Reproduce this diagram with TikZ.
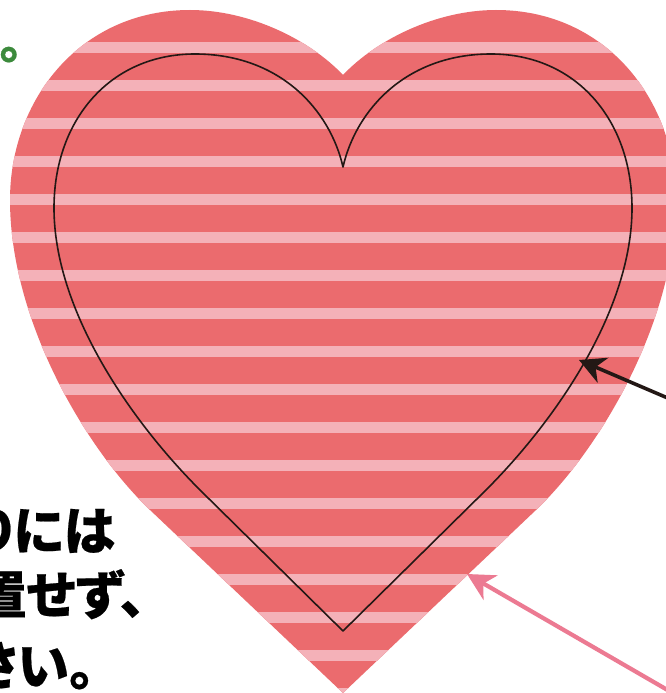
\documentclass[tikz,border=0pt]{standalone}
\usepackage{fontspec}
\newfontfamily\jp{Noto Sans CJK JP}[RawFeature=+palt, BoldFeatures={FakeBold=0.4}]
\usetikzlibrary{arrows.meta}
\definecolor{heartred}{HTML}{EB6B6E}
\definecolor{stripepink}{HTML}{F4B1B8}
\definecolor{linedark}{HTML}{231815}
\definecolor{arrowpink}{HTML}{EC7A92}
\definecolor{dotgreen}{HTML}{3C8A3C}
\begin{document}
\begin{tikzpicture}[x=1pt,y=-1pt,
  jptext/.style={font=\jp\bfseries\fontsize{52}{56}\selectfont, inner sep=0pt, anchor=base east, text=black},
  greendot/.style={font=\jp\bfseries\fontsize{47}{47}\selectfont, inner sep=0pt, anchor=base west, text=dotgreen},
  innerline/.style={draw=linedark, line width=1.6pt, line join=round},
  blackarrow/.style={draw=linedark, line width=3.6pt, -{Stealth[length=26pt,width=27pt,inset=8pt]}},
  pinkarrow/.style={draw=arrowpink, line width=4.2pt, -{Stealth[length=27pt,width=28pt,inset=8pt]}}]
\useasboundingbox (0,0) rectangle (666,693);
\clip (0,0) rectangle (666,693);
\fill[white] (0,0) rectangle (666,693);
% outer striped heart
\begin{scope}
\clip (343,75) .. controls (310,40) and (250,10) .. (190,10)
  .. controls (80,10) and (10,100) .. (10,200)
  .. controls (10,320) and (85,448) .. (150,510)
  -- (343,693) -- (536,510)
  .. controls (601,448) and (676,320) .. (676,200)
  .. controls (676,100) and (606,10) .. (496,10)
  .. controls (436,10) and (376,40) .. (343,75) -- cycle;
\fill[heartred] (0,0) rectangle (700,700);
\foreach \k in {0,...,17}{
  \fill[stripepink] (0,{42+38*\k}) rectangle (700,{53+38*\k});
}
\end{scope}
% inner outline heart
\draw[innerline] (343,167) .. controls (330,110) and (280,54) .. (195,54)
  .. controls (110,54) and (54,120) .. (54,208)
  .. controls (54,310) and (130,420) .. (200,490)
  -- (343,631) -- (486,490)
  .. controls (556,420) and (632,310) .. (632,208)
  .. controls (632,120) and (576,54) .. (491,54)
  .. controls (406,54) and (356,110) .. (343,167) -- cycle;
% arrows
\coordinate (btail) at (705,414);
\coordinate (btip) at (579,360);
\coordinate (ptail) at (690,703);
\coordinate (ptip) at (467,574);
\draw[blackarrow] (btail) -- (btip);
\draw[pinkarrow] (ptail) -- (ptip);
% texts
\node[greendot] (g) at (-1,58.5) {。};
\node[jptext] (t1) at (115,550) {りには};
\node[jptext] (t2) at (146,614) {置せず、};
\node[jptext] (t3) at (95,685) {さい。};
\end{tikzpicture}
\end{document}
